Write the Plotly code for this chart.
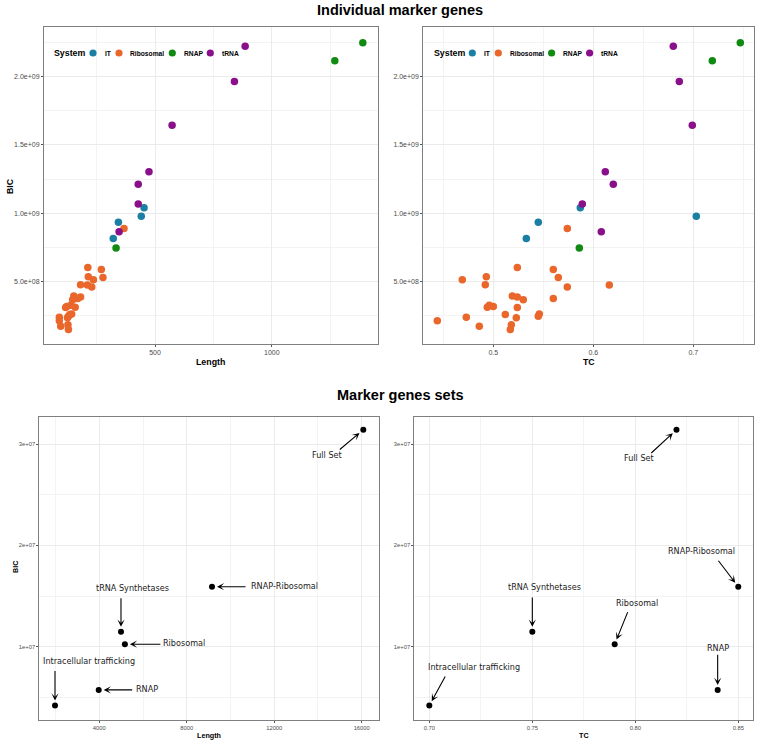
import plotly.graph_objects as go

W, H = 760, 746

# ---------------- data: individual marker genes ----------------
systems = ["IT", "Ribosomal", "RNAP", "tRNA"]
system_colors = ["#1A7FA2", "#EA672C", "#108A10", "#8A0F8A"]

it_length = [453, 441, 343, 321]
it_tc = [0.587, 0.703, 0.545, 0.533]
it_bic = [1.039e9, 0.978e9, 0.934e9, 0.815e9]

ribo_length = [367, 212, 270, 214, 277, 236, 181, 210, 229, 152, 181, 169, 147,
               139, 122, 158, 117, 143, 135, 129, 90, 125, 90, 127, 96, 129]
ribo_tc = [0.574, 0.524, 0.560, 0.493, 0.565, 0.469, 0.492, 0.616, 0.574, 0.519,
           0.524, 0.560, 0.530, 0.496, 0.500, 0.494, 0.524, 0.546, 0.512, 0.545,
           0.473, 0.523, 0.444, 0.518, 0.486, 0.517]
ribo_bic = [8.88e8, 6.02e8, 5.87e8, 5.34e8, 5.29e8, 5.12e8, 4.76e8, 4.73e8, 4.59e8,
            3.93e8, 3.86e8, 3.74e8, 3.66e8, 3.25e8, 3.16e8, 3.11e8, 3.09e8, 2.62e8,
            2.58e8, 2.45e8, 2.38e8, 2.33e8, 2.12e8, 1.82e8, 1.71e8, 1.48e8]

rnap_length = [1390, 1270, 333]
rnap_tc = [0.747, 0.719, 0.586]
rnap_bic = [2.249e9, 2.116e9, 0.745e9]

trna_length = [886, 840, 573, 474, 428, 428, 346]
trna_tc = [0.680, 0.686, 0.699, 0.612, 0.620, 0.589, 0.608]
trna_bic = [2.223e9, 1.965e9, 1.645e9, 1.303e9, 1.211e9, 1.068e9, 0.864e9]

# ---------------- data: marker gene sets ----------------
set_names = ["Full Set", "RNAP-Ribosomal", "tRNA Synthetases", "Ribosomal",
             "RNAP", "Intracellular trafficking"]
set_length = [16073, 9154, 4992, 5170, 3973, 1974]
set_tc = [0.820, 0.850, 0.750, 0.790, 0.840, 0.700]
set_bic = [3.141e7, 1.592e7, 1.148e7, 1.024e7, 0.573e7, 0.418e7]

# ---------------- tick labels ----------------
top_y_ticks = [5e8, 1e9, 1.5e9, 2e9]
top_y_text = ["5.0e+08", "1.0e+09", "1.5e+09", "2.0e+09"]
top_y_minor = [2.5e8, 7.5e8, 1.25e9, 1.75e9, 2.25e9]
tl_x_ticks = [500, 1000]
tl_x_text = ["500", "1000"]
tl_x_minor = [250, 750, 1250]
tr_x_ticks = [0.5, 0.6, 0.7]
tr_x_text = ["0.5", "0.6", "0.7"]
tr_x_minor = [0.45, 0.55, 0.65, 0.75]
bot_y_ticks = [1e7, 2e7, 3e7]
bot_y_text = ["1e+07", "2e+07", "3e+07"]
bot_y_minor = [5e6, 1.5e7, 2.5e7]
bl_x_ticks = [4000, 8000, 12000, 16000]
bl_x_text = ["4000", "8000", "12000", "16000"]
bl_x_minor = [2000, 6000, 10000, 14000]
br_x_ticks = [0.70, 0.75, 0.80, 0.85]
br_x_text = ["0.70", "0.75", "0.80", "0.85"]
br_x_minor = [0.725, 0.775, 0.825]

# ---------------- layout helpers ----------------
def px_x(p):
    return p / W

def px_y(p):
    return 1 - p / H

SANS = "Liberation Sans, Arial, sans-serif"
DEJAVU = "DejaVu Sans, sans-serif"

fig = go.Figure()

sys_data = [
    (it_length, it_tc, it_bic),
    (ribo_length, ribo_tc, ribo_bic),
    (rnap_length, rnap_tc, rnap_bic),
    (trna_length, trna_tc, trna_bic),
]
for name, col, (ln, tc, bic) in zip(systems, system_colors, sys_data):
    fig.add_trace(go.Scatter(x=ln, y=bic, mode="markers", name=name,
                             marker=dict(size=7.5, color=col, line=dict(width=0)),
                             xaxis="x", yaxis="y", showlegend=False))
    fig.add_trace(go.Scatter(x=tc, y=bic, mode="markers", name=name,
                             marker=dict(size=7.5, color=col, line=dict(width=0)),
                             xaxis="x2", yaxis="y2", showlegend=False))

fig.add_trace(go.Scatter(x=set_length, y=set_bic, mode="markers",
                         marker=dict(size=6, color="black"),
                         xaxis="x3", yaxis="y3", showlegend=False))
fig.add_trace(go.Scatter(x=set_tc, y=set_bic, mode="markers",
                         marker=dict(size=6, color="black"),
                         xaxis="x4", yaxis="y4", showlegend=False))


def axis(domain, rng, tickvals, ticktext, minor, fsize, anchor):
    return dict(
        domain=domain, range=rng, anchor=anchor,
        tickmode="array", tickvals=tickvals, ticktext=ticktext,
        tickfont=dict(family=SANS, size=fsize, color="#4d4d4d"),
        ticks="outside", ticklen=2, tickwidth=0.8, tickcolor="#555555",
        showgrid=True, gridcolor="#ebebeb", gridwidth=0.8,
        minor=dict(tickvals=minor, showgrid=True, gridcolor="#f3f3f3",
                   gridwidth=0.5, ticks=""),
        showline=True, mirror=True, linecolor="#7f7f7f", linewidth=1,
        zeroline=False,
    )

top_dom_y = [px_y(344), px_y(27)]
bot_dom_y = [px_y(720), px_y(416.7)]
tl_dom_x = [px_x(44), px_x(378)]
tr_dom_x = [px_x(423.3), px_x(754)]
bl_dom_x = [px_x(39.3), px_x(379)]
br_dom_x = [px_x(414.3), px_x(753.3)]

fig.update_layout(
    width=W, height=H,
    margin=dict(l=0, r=0, t=0, b=0),
    paper_bgcolor="white", plot_bgcolor="white",
    xaxis=axis(tl_dom_x, [24.4, 1455], tl_x_ticks, tl_x_text, tl_x_minor, 7, "y"),
    yaxis=axis(top_dom_y, [0.0415e9, 2.364e9], top_y_ticks, top_y_text, top_y_minor, 7, "x"),
    xaxis2=axis(tr_dom_x, [0.430, 0.7607], tr_x_ticks, tr_x_text, tr_x_minor, 7, "y2"),
    yaxis2=axis(top_dom_y, [0.0415e9, 2.364e9], top_y_ticks, top_y_text, top_y_minor, 7, "x2"),
    xaxis3=axis(bl_dom_x, [1256, 16791], bl_x_ticks, bl_x_text, bl_x_minor, 5.8, "y3"),
    yaxis3=axis(bot_dom_y, [2.76e6, 3.27e7], bot_y_ticks, bot_y_text, bot_y_minor, 5.8, "x3"),
    xaxis4=axis(br_dom_x, [0.6927, 0.8573], br_x_ticks, br_x_text, br_x_minor, 5.8, "y4"),
    yaxis4=axis(bot_dom_y, [2.76e6, 3.27e7], bot_y_ticks, bot_y_text, bot_y_minor, 5.8, "x4"),
)

annotations = []
shapes = []

# section titles
for txt, yc in [("Individual marker genes", 10), ("Marker genes sets", 394.7)]:
    annotations.append(dict(text="<b>%s</b>" % txt, xref="paper", yref="paper",
                            x=px_x(400), y=px_y(yc), xanchor="center", yanchor="middle",
                            showarrow=False, font=dict(family=SANS, size=14.5, color="black")))

# axis titles
axis_titles = [
    ("Length", 211, 361.5, 0, 8.8),
    ("TC", 589, 361.5, 0, 8.8),
    ("BIC", 10, 186, -90, 8.8),
    ("Length", 208.7, 735, 0, 7.2),
    ("TC", 584, 735.5, 0, 7.2),
    ("BIC", 15, 567, -90, 7.2),
]
for txt, xc, yc, ang, fs in axis_titles:
    annotations.append(dict(text="<b>%s</b>" % txt, xref="paper", yref="paper",
                            x=px_x(xc), y=px_y(yc), xanchor="center", yanchor="middle",
                            textangle=ang, showarrow=False,
                            font=dict(family=SANS, size=fs, color="black")))

# in-panel legends (position offsets relative to panel left / top, px)
legend_marker_dx = [49, 75, 128.3, 166.3]
legend_text_dx = [58.7, 84.3, 137.7, 176]
legend_dy = 26
for xr, yr in [("x", "y"), ("x2", "y2")]:
    annotations.append(dict(text="<b>System</b>", xref=xr + " domain", yref=yr + " domain",
                            x=0, y=1, xshift=8.3, yshift=-legend_dy,
                            xanchor="left", yanchor="middle", showarrow=False,
                            font=dict(family=SANS, size=8.8, color="black")))
    for name, col, mdx, tdx in zip(systems, system_colors, legend_marker_dx, legend_text_dx):
        shapes.append(dict(type="circle", xref=xr + " domain", yref=yr + " domain",
                           xsizemode="pixel", ysizemode="pixel", xanchor=0, yanchor=1,
                           x0=mdx - 3.6, x1=mdx + 3.6,
                           y0=-legend_dy - 3.6, y1=-legend_dy + 3.6,
                           fillcolor=col, line=dict(width=0)))
        annotations.append(dict(text="<b>%s</b>" % name, xref=xr + " domain", yref=yr + " domain",
                                x=0, y=1, xshift=tdx, yshift=-legend_dy,
                                xanchor="left", yanchor="middle", showarrow=False,
                                font=dict(family=SANS, size=6.7, color="black")))

# labelled arrows for gene sets: (arrow tail dx, dy, text dx, text dy) in px
len_label_style = [(-25, 21, -36.6, -25.3), (35, 0, 72, 1), (0, -35, 11.7, 44),
                   (37, 0, 59, 1), (35, 0, 48.7, 0.7), (0, -36, 34.3, 44.7)]
tc_label_style = [(-26.7, 24.6, -37.7, -28.3), (-21, -27.4, -37, 36), (0, -35.7, 11.7, 44.4),
                  (13.6, -33.6, 22, 41), (0, -36.7, 0, 41.7), (16.7, -30.7, 45, 39)]

for xr, yr, xs, styles in [("x3", "y3", set_length, len_label_style),
                           ("x4", "y4", set_tc, tc_label_style)]:
    for name, xv, yv, (adx, ady, tdx, tdy) in zip(set_names, xs, set_bic, styles):
        annotations.append(dict(text="", x=xv, y=yv, xref=xr, yref=yr,
                                showarrow=True, ax=adx, ay=ady, axref="pixel", ayref="pixel",
                                arrowhead=3, arrowsize=1.1, arrowwidth=1.1,
                                arrowcolor="black", standoff=5))
        annotations.append(dict(text=name, x=xv, y=yv, xref=xr, yref=yr,
                                xshift=tdx, yshift=tdy, showarrow=False,
                                xanchor="center", yanchor="middle",
                                font=dict(family=DEJAVU, size=8.1, color="#222222")))

fig.update_layout(annotations=annotations, shapes=shapes)

fig.write_html("out.html",
               config={"displayModeBar": False},
               post_script="document.body.style.margin='0';document.body.style.overflow='hidden';")
